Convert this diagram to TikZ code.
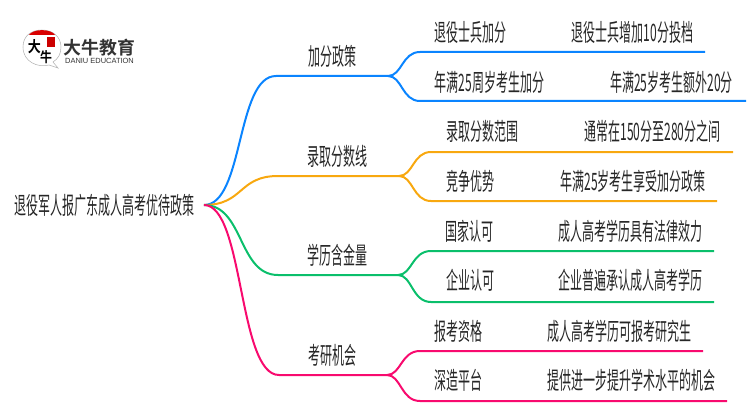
\documentclass[tikz,border=0pt]{standalone}
\usepackage{fontspec}
\setmainfont{Noto Sans CJK SC}[FakeStretch=0.5]
\newfontfamily\logofont{Noto Sans CJK SC Bold}
\newfontfamily\logobrush{Noto Sans CJK SC Bold}[FakeStretch=0.85]
\newfontfamily\logolatin{Liberation Sans}

\definecolor{branchblue}{HTML}{0A84FF}
\definecolor{branchorange}{HTML}{F8A80F}
\definecolor{branchgreen}{HTML}{0ABF6B}
\definecolor{branchpink}{HTML}{F80A6E}
\definecolor{logogray}{HTML}{333333}

\begin{document}
\begin{tikzpicture}
        [x=0.75pt,y=-0.75pt,every node/.style={inner sep=0,text=black!85,font=\fontsize{18pt}{18pt}\selectfont}, every path/.style={line width=1.5pt}]

        \useasboundingbox (0, 0) rectangle (750, 410);

        % logo
        \draw[line width=0.4pt, black!30] (49, 65) .. controls (38, 68) and (23, 62) .. (23, 47) .. controls (23, 36) and (31, 30) .. (42, 30) .. controls (53, 30) and (61, 37) .. (61, 47) .. controls (61, 54) and (58, 59) .. (53, 62) -- (58, 68) -- cycle;
        \fill[red!85!black] (29, 35) .. controls (33, 28.5) and (51, 28.5) .. (55, 35) -- cycle;
        \fill[red!80!black] (47, 37) rectangle (55, 47);
        \node[font=\fontsize{11.5pt}{11.5pt}\logobrush, text=black] (logobig) at (34.5, 46.5) {大};
        \node[font=\fontsize{10.5pt}{10.5pt}\logobrush, text=black] (logoox) at (46, 57) {牛};
        \node[font=\fontsize{13.4pt}{13.4pt}\logofont, text=logogray] (logoname) at (99.5, 48) {大牛教育};
        \node[font=\fontsize{5.6pt}{5.6pt}\logolatin, text=logogray] (logoen) at (99.5, 60.5) {DANIU EDUCATION};

        \node (root) at (104, 205) {退役军人报广东成人高考优待政策};
        \coordinate (hub) at (204, 205);

        \node (jf) at (332, 56) {加分政策};
        \node (lq) at (337.5, 156) {录取分数线};
        \node (xl) at (337, 255) {学历含金量};
        \node (ky) at (332, 355) {考研机会};

        \node (jf1) at (470.5, 32) {退役士兵加分};
        \node (jf1t) at (632.5, 32) {退役士兵增加10分投档};
        \node (jf2) at (489.5, 82) {年满25周岁考生加分};
        \node (jf2t) at (671.5, 82) {年满25岁考生额外20分};
        \node (lq1) at (482.5, 131) {录取分数范围};
        \node (lq1t) at (652.5, 131) {通常在150分至280分之间};
        \node (lq2) at (470.5, 181) {竞争优势};
        \node (lq2t) at (633, 181) {年满25岁考生享受加分政策};
        \node (xl1) at (469.5, 231) {国家认可};
        \node (xl1t) at (630, 231) {成人高考学历具有法律效力};
        \node (xl2) at (470, 280) {企业认可};
        \node (xl2t) at (630.5, 280) {企业普遍承认成人高考学历};
        \node (ky1) at (458.5, 331) {报考资格};
        \node (ky1t) at (619.5, 331) {成人高考学历可报考研究生};
        \node (ky2) at (458.5, 380) {深造平台};
        \node (ky2t) at (631.5, 380) {提供进一步提升学术水平的机会};

        \coordinate (jfa) at (276, 76);
        \coordinate (jfb) at (388, 76);
        \coordinate (jfc) at (420, 52);
        \coordinate (jfd) at (705, 52);
        \coordinate (jfe) at (420, 101);
        \coordinate (jff) at (746, 101);

        \coordinate (lqa) at (278, 176);
        \coordinate (lqb) at (399, 176);
        \coordinate (lqc) at (431, 152);
        \coordinate (lqd) at (733, 152);
        \coordinate (lqe) at (431, 201);
        \coordinate (lqf) at (717, 201);

        \coordinate (xla) at (278, 275);
        \coordinate (xlb) at (398, 275);
        \coordinate (xlc) at (431, 251);
        \coordinate (xld) at (714, 251);
        \coordinate (xle) at (431, 302);
        \coordinate (xlf) at (714, 302);

        \coordinate (kya) at (279, 375);
        \coordinate (kyb) at (387, 375);
        \coordinate (kyc) at (420, 351);
        \coordinate (kyd) at (703, 351);
        \coordinate (kye) at (420, 401);
        \coordinate (kyf) at (727, 401);

        \draw[branchblue] (hub) .. controls (244, 205) and (236, 76) .. (jfa) -- (jfb);
        \draw[branchblue] (jfb) .. controls (402, 76) and (402, 52) .. (jfc) -- (jfd);
        \draw[branchblue] (jfb) .. controls (402, 76) and (402, 101) .. (jfe) -- (jff);

        \draw[branchorange] (hub) .. controls (244, 205) and (238, 176) .. (lqa) -- (lqb);
        \draw[branchorange] (lqb) .. controls (413, 176) and (413, 152) .. (lqc) -- (lqd);
        \draw[branchorange] (lqb) .. controls (413, 176) and (413, 201) .. (lqe) -- (lqf);

        \draw[branchgreen] (hub) .. controls (244, 205) and (238, 275) .. (xla) -- (xlb);
        \draw[branchgreen] (xlb) .. controls (412, 275) and (412, 251) .. (xlc) -- (xld);
        \draw[branchgreen] (xlb) .. controls (412, 275) and (412, 302) .. (xle) -- (xlf);

        \draw[branchpink] (hub) .. controls (244, 205) and (238, 375) .. (kya) -- (kyb);
        \draw[branchpink] (kyb) .. controls (401, 375) and (401, 351) .. (kyc) -- (kyd);
        \draw[branchpink] (kyb) .. controls (401, 375) and (401, 401) .. (kye) -- (kyf);
      \end{tikzpicture}
\end{document}
